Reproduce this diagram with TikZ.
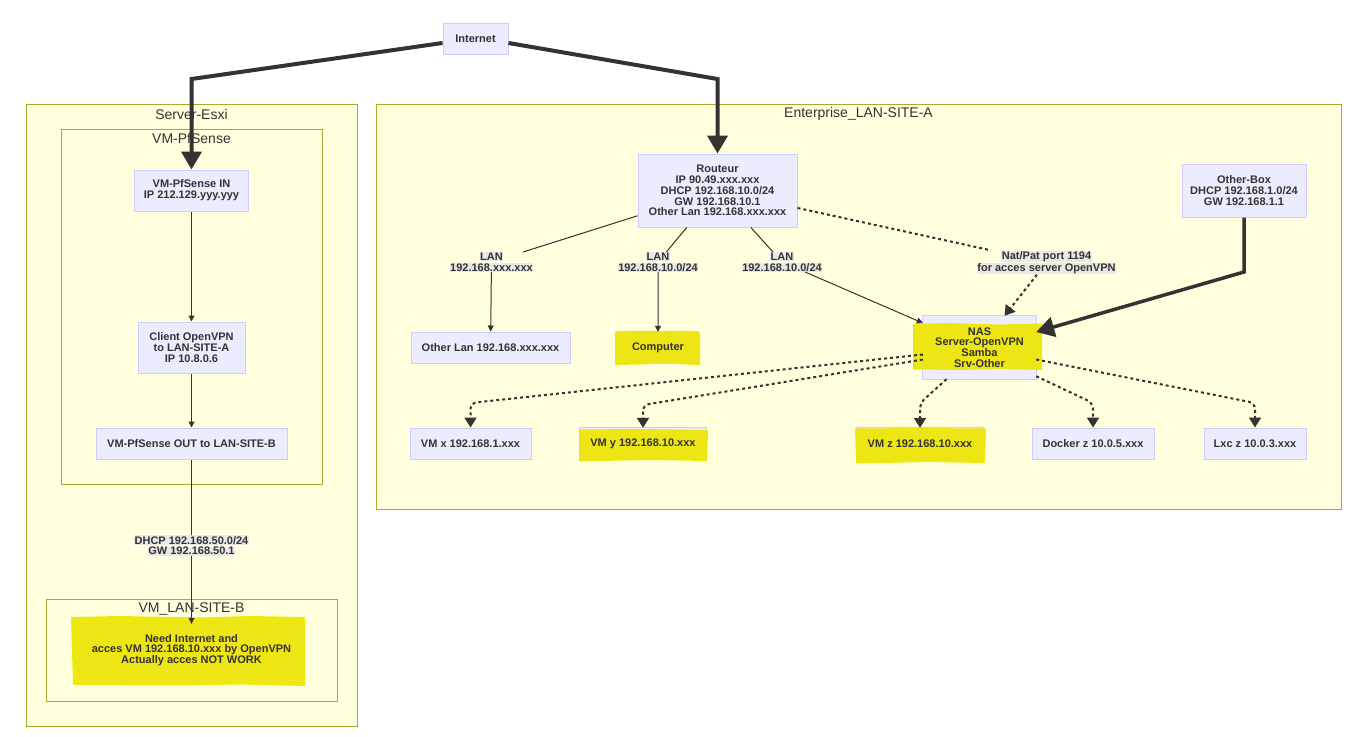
\documentclass[tikz,border=0pt]{standalone}
\usepackage{fontspec}
\setmainfont{Liberation Sans}
\usetikzlibrary{arrows.meta,calc}
\definecolor{nodefill}{HTML}{ECECFF}
\definecolor{nodeline}{HTML}{CCCCFF}
\definecolor{clfill}{HTML}{FFFFDE}
\definecolor{clline}{HTML}{AAAA33}
\definecolor{txt}{HTML}{333333}
\definecolor{lblfill}{HTML}{E8E8E8}
\definecolor{hl}{HTML}{EEE600}
\newcommand\ndfont{\bfseries\fontsize{11}{10.8}\selectfont}
\newcommand\lb[1]{{\setlength{\fboxsep}{0.6pt}\colorbox{lblfill}{#1}}}
\pgfdeclarelayer{bg}\pgfdeclarelayer{boxes}\pgfdeclarelayer{hlayer}
\pgfsetlayers{bg,boxes,hlayer,main}
\begin{document}
\begin{tikzpicture}[x=1pt,y=-1pt,
 box/.style={draw=nodeline, fill=nodefill, line width=1pt, inner sep=0pt, align=center, text=txt, font=\ndfont},
 txtbox/.style={inner sep=0pt, align=center, text=txt, font=\ndfont},
 boxdraw/.style={draw=nodeline, fill=nodefill, line width=1pt},
 cluster/.style={draw=clline, fill=clfill, line width=1pt},
 cltitle/.style={text=txt, font=\fontsize{14}{16}\selectfont, inner sep=0pt},
 lbl/.style={inner sep=0pt, align=center, text=txt, font=\ndfont},
 hlight/.style={fill=hl, opacity=0.92},
 edge/.style={draw=txt, line width=1pt, -{Triangle[length=6pt,width=6pt]}},
 thickedge/.style={draw=txt, line width=4pt, -{Triangle[length=18pt,width=20pt]}},
 dotedge/.style={draw=txt, line width=2pt, dash pattern=on 3pt off 3pt, rounded corners=6pt, -{Triangle[length=10pt,width=12pt]}},
]
\useasboundingbox (0,0) rectangle (1351,736);
\begin{pgfonlayer}{bg}
\fill[white] (0,0) rectangle (1351,736);
\draw[cluster] (26,104) rectangle (357,726);
\draw[cluster] (61,129) rectangle (322,484);
\draw[cluster] (46,599) rectangle (337,701);
\draw[cluster] (376,104) rectangle (1341,509);
\end{pgfonlayer}
\node[cltitle] (tesxi) at (191.5,114) {Server-Esxi};
\node[cltitle] (tpf) at (191.5,139) {VM-PfSense};
\node[cltitle] (tsiteb) at (191.5,609) {VM\_LAN-SITE-B};
\node[cltitle] (tsitea) at (858.5,114) {Enterprise\_LAN-SITE-A};

% plain nodes
\node[box, minimum width=65, minimum height=31] (inet) at (475.5,39) {Internet};
\node[box, minimum width=114, minimum height=41] (pfin) at (191.5,190.5) {VM-PfSense IN\\IP 212.129.yyy.yyy};
\node[box, minimum width=107, minimum height=51] (client) at (191.5,347.5) {Client OpenVPN\\to LAN-SITE-A\\IP 10.8.0.6};
\node[box, minimum width=191, minimum height=31] (pfout) at (191.5,443.5) {VM-PfSense OUT to LAN-SITE-B};
\node[box, minimum width=159, minimum height=73] (routeur) at (717.5,190.5) {Routeur\\IP 90.49.xxx.xxx\\DHCP 192.168.10.0/24\\GW 192.168.10.1\\Other Lan 192.168.xxx.xxx};
\node[box, minimum width=124, minimum height=53] (obox) at (1244,190.5) {Other-Box\\DHCP 192.168.1.0/24\\GW 192.168.1.1};
\node[box, minimum width=159, minimum height=31] (otherlan) at (490.5,347.5) {Other Lan 192.168.xxx.xxx};
\node[box, minimum width=121, minimum height=31] (vmx) at (470.5,443.5) {VM x 192.168.1.xxx};
\node[box, minimum width=122, minimum height=31] (docker) at (1093,443.5) {Docker z 10.0.5.xxx};
\node[box, minimum width=102, minimum height=31] (lxc) at (1255,443.5) {Lxc z 10.0.3.xxx};

% highlighted nodes
\node[txtbox, minimum width=223, minimum height=52] (need) at (191.5,650) {Need Internet and\\acces VM 192.168.10.xxx by OpenVPN\\Actually acces NOT WORK};
\node[txtbox, minimum width=113, minimum height=63] (nas) at (979.5,347.5) {NAS\\Server-OpenVPN\\Samba\\Srv-Other};
\node[txtbox, minimum width=78, minimum height=31] (comp) at (658,347.5) {Computer};
\node[txtbox, minimum width=126, minimum height=31] (vmy) at (643,443.5) {VM y 192.168.10.xxx};
\node[txtbox, minimum width=126, minimum height=31] (vmz) at (920,443.5) {VM z 192.168.10.xxx};
\begin{pgfonlayer}{boxes}
\foreach \n in {need,nas,comp,vmy,vmz}{\draw[boxdraw] (\n.south west) rectangle (\n.north east);}
\end{pgfonlayer}
\begin{pgfonlayer}{hlayer}
\fill[hlight] (71,617) -- (120,616) -- (200,617.5) -- (250,616) -- (305,617) -- (305,686) -- (240,684.5) -- (180,685.5) -- (73,685) -- cycle;
\fill[hlight] (913,324) -- (950,323) -- (1000,324.5) -- (1042,323.5) -- (1042,370) -- (1000,369) -- (960,370) -- (913,369.5) -- cycle;
\fill[hlight] (615,331.5) -- (660,331) -- (700,332) -- (700,365) -- (665,363.5) -- (640,364.5) -- (615,365) -- cycle;
\fill[hlight] (579,429.5) -- (640,429) -- (708,430) -- (707,461) -- (650,460) -- (600,461) -- (579,461.5) -- cycle;
\fill[hlight] (855,428.5) -- (920,428) -- (986,428.5) -- (985,463) -- (930,462) -- (880,463) -- (856,463.5) -- cycle;
\end{pgfonlayer}

% edge labels
\node[lbl] (l1) at (491.5,262) {\lb{LAN}\\\lb{192.168.xxx.xxx}};
\node[lbl] (l2) at (658,262) {\lb{LAN}\\\lb{192.168.10.0/24}};
\node[lbl] (l3) at (782,262) {\lb{LAN}\\\lb{192.168.10.0/24}};
\node[lbl] (l4) at (1046.5,262.5) {\lb{Nat/Pat port 1194}\\\lb{for acces server OpenVPN}};
\node[lbl] (l5) at (191.5,545.5) {\lb{DHCP 192.168.50.0/24}\\\lb{GW 192.168.50.1}};

% bend points
\coordinate (bpf) at (191.5,79);
\coordinate (brt) at (717.5,79);
\coordinate (bob) at (1244,272);
\coordinate (dvx) at (470.5,403);
\coordinate (dvy) at (643,405);
\coordinate (dvz) at (920,403);
\coordinate (ddk) at (1093,403);
\coordinate (dlx) at (1255,403);

% edges
\draw[thickedge] ($(inet.west)+(0,4)$) -- (bpf) -- (pfin.north);
\draw[thickedge] ($(inet.east)+(0,4)$) -- (brt) -- (routeur.north);
\draw[edge] (pfin) -- (client);
\draw[edge] (client) -- (pfout);
\draw[edge] (pfout) -- (l5) -- (need);
\draw[edge] (routeur) -- (l1) -- (otherlan);
\draw[edge] (routeur) -- (l2) -- (comp);
\draw[edge] (routeur) -- (l3) -- (nas);
\draw[dotedge, rounded corners=0pt] (routeur) -- (l4) -- (nas);
\draw[thickedge, line width=3.5pt] (obox.south) -- (bob) -- ($(nas.east)+(0,-15.5)$);
\draw[dotedge] ($(nas.west)+(0,7)$) -- (dvx) -- (vmx.north);
\draw[dotedge] ($(nas.west)+(0,12)$) -- (dvy) -- (vmy.north);
\draw[dotedge] ($(nas.south)+(-33,0)$) -- (dvz) -- (vmz.north);
\draw[dotedge] ($(nas.south east)+(0,-3)$) -- (ddk) -- (docker.north);
\draw[dotedge] ($(nas.east)+(0,12)$) -- (dlx) -- (lxc.north);
\end{tikzpicture}
\end{document}
